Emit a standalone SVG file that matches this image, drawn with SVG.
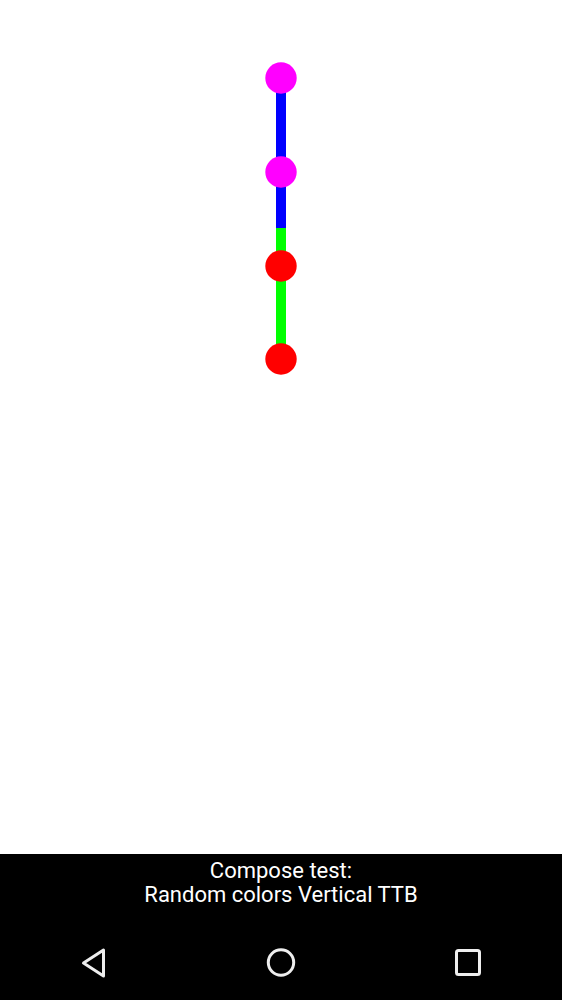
<svg xmlns="http://www.w3.org/2000/svg" width="562" height="1000" viewBox="0 0 562 1000">
  <defs>
    <linearGradient id="g2" gradientUnits="userSpaceOnUse" x1="0" y1="172" x2="0" y2="266">
      <stop offset="0.596" stop-color="#0000ff"/>
      <stop offset="0.596" stop-color="#00ff00"/>
    </linearGradient>
  </defs>
  <style>
    .edge { stroke-width: 10; fill: none; }
    .node { stroke: none; }
    .label { font-family: Roboto, "Liberation Sans", sans-serif; font-size: 22px; fill: #ffffff; text-anchor: middle; }
    .nav { fill: none; stroke: #eeeeee; stroke-width: 3; stroke-linejoin: round; stroke-linecap: round; }
  </style>
  <rect x="0" y="0" width="562" height="1000" fill="#ffffff"/>
  <g id="connectors">
    <line class="edge" x1="281" y1="78" x2="281" y2="172" stroke="#0000ff"/>
    <rect x="276" y="172" width="10" height="94" fill="url(#g2)"/>
    <line class="edge" x1="281" y1="266" x2="281" y2="359" stroke="#00ff00"/>
  </g>
  <g id="node1"><circle class="node" cx="281" cy="78" r="15.7" fill="#ff00ff"/></g>
  <g id="node2"><circle class="node" cx="281" cy="172" r="15.7" fill="#ff00ff"/></g>
  <g id="node3"><circle class="node" cx="281" cy="266" r="15.7" fill="#ff0000"/></g>
  <g id="node4"><circle class="node" cx="281" cy="359" r="15.7" fill="#ff0000"/></g>
  <g id="bottom-bar">
    <rect x="0" y="854" width="562" height="146" fill="#000000"/>
    <text class="label" x="281" y="878">Compose test:</text>
    <text class="label" x="281" y="902">Random colors Vertical TTB</text>
    <path class="nav" d="M83.5 963 L103.5 950 L103.5 976 Z"/>
    <circle class="nav" cx="281" cy="962.5" r="12.7"/>
    <rect class="nav" x="456.5" y="950.5" width="23" height="24" rx="2"/>
  </g>
</svg>
